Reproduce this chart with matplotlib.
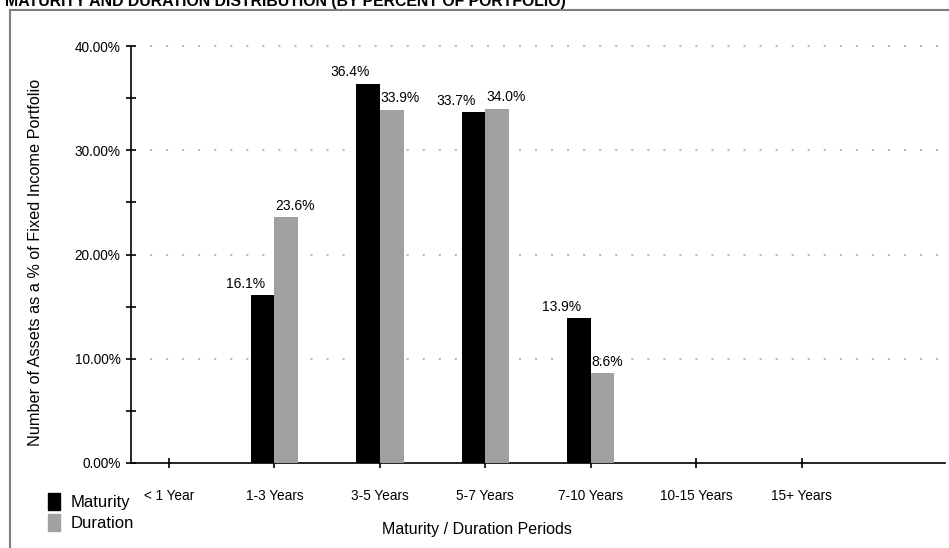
import numpy as np
import matplotlib
matplotlib.use("Agg")
import matplotlib.pyplot as plt
from matplotlib.patches import Patch
from matplotlib.lines import Line2D

plt.rcParams['font.family'] = ['Liberation Sans', 'DejaVu Sans']

periods = ["< 1 Year", "1-3 Years", "3-5 Years", "5-7 Years", "7-10 Years", "10-15 Years", "15+ Years"]
maturity = [0.0, 16.1, 36.4, 33.7, 13.9, 0.0, 0.0]
duration = [0.0, 23.6, 33.9, 34.0, 8.6, 0.0, 0.0]

mat_color = "#000000"
dur_color = "#A0A0A0"

fig = plt.figure(figsize=(9.49, 5.48), dpi=100)
ax = fig.add_axes([131/949, 1-463/548, (945-131)/949, (463-46)/548])

x = np.arange(len(periods))
w = 0.225
ax.bar(x - w/2, maturity, w, color=mat_color, zorder=3)
ax.bar(x + w/2, duration, w, color=dur_color, zorder=3)

for i in range(len(periods)):
    if maturity[i] > 0:
        ax.text(x[i] - w/2 + 0.02, maturity[i] + 0.4, "%.1f%%" % maturity[i],
                ha="right", va="bottom", fontsize=10)
    if duration[i] > 0:
        ax.text(x[i] + 0.01, duration[i] + 0.4, "%.1f%%" % duration[i],
                ha="left", va="bottom", fontsize=10)

ax.set_xlim(-0.36, 7.36)
ax.set_ylim(0, 40)
ax.set_xticks(x)
ax.set_xticklabels(periods, fontsize=9.8)
ax.set_yticks([0, 10, 20, 30, 40])
ax.set_yticklabels(["%.2f%%" % v for v in [0, 10, 20, 30, 40]], fontsize=9.8)
ax.set_yticks([5, 15, 25, 35], minor=True)
ax.tick_params(axis="both", which="both", direction="inout", length=7, width=1.2, color="#000000")
ax.tick_params(axis="x", pad=15)
ax.tick_params(axis="y", pad=4)

for s in ["top", "right"]:
    ax.spines[s].set_visible(False)
ax.spines["left"].set_linewidth(1.2)
ax.spines["bottom"].set_linewidth(1.2)

for v in [10, 20, 30, 40]:
    ax.plot([-0.18, 7.3], [v, v], linestyle=(0, (1, 6.7)), color="#BBBBBB",
            linewidth=1.5, zorder=1, clip_on=False)

ax.set_xlabel("Maturity / Duration Periods", fontsize=11.5)
ax.xaxis.set_label_coords(0.425, -0.142)
ax.set_ylabel("Number of Assets as a % of Fixed Income Portfolio", fontsize=11.7)
ax.yaxis.set_label_coords(-0.108, 0.48)

handles = [Patch(color=mat_color, label="Maturity"), Patch(color=dur_color, label="Duration")]
fig.legend(handles=handles, loc="upper left", bbox_to_anchor=(33/949, 1-478/548),
           frameon=False, fontsize=12, handlelength=0.72, handleheight=1.2,
           handletextpad=0.65, labelspacing=0.25)

# outer border (top and left only visible)
fig.add_artist(Line2D([10/949, 1.0], [1-10/548, 1-10/548], color="#7F7F7F", linewidth=1.5))
fig.add_artist(Line2D([10/949, 10/949], [0, 1-10/548], color="#7F7F7F", linewidth=1.5))

fig.text(5/949, 1-6/548, "MATURITY AND DURATION DISTRIBUTION (BY PERCENT OF PORTFOLIO)",
         fontsize=11.4, fontweight="bold", ha="left", va="baseline")

fig.savefig("out.png", dpi=100)
